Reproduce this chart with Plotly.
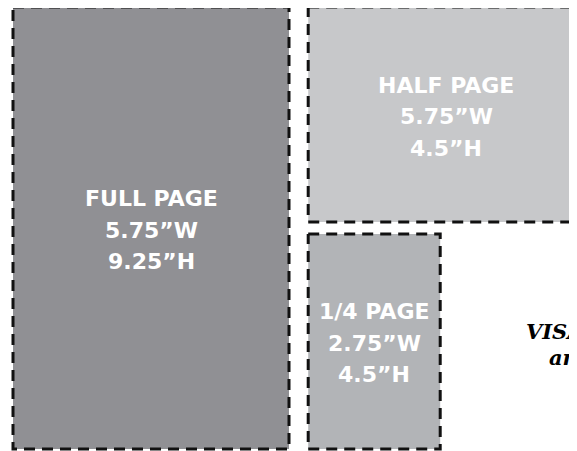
import plotly.graph_objects as go

# Ad sizes (inches)
ad_names = ["FULL PAGE", "HALF PAGE", "1/4 PAGE"]
ad_widths = [5.75, 5.75, 2.75]
ad_heights = [9.25, 4.5, 4.5]
width_labels = ["5.75\u201dW", "5.75\u201dW", "2.75\u201dW"]
height_labels = ["9.25\u201dH", "4.5\u201dH", "4.5\u201dH"]
ad_colors = ["#909094", "#c7c8ca", "#b2b4b7"]
note_lines = ["VISA, MasterCard", "and Discover"]

# layout rules (inches)
H_GAP = 0.4
V_GAP = 0.25
full_w, full_h = ad_widths[0], ad_heights[0]
origins = [
    (0.0, 0.0),
    (full_w + H_GAP, full_h - ad_heights[1]),
    (full_w + H_GAP, 0.0),
]

OFF = 8  # page body margin
fig = go.Figure()
for i, name in enumerate(ad_names):
    x0, y0 = origins[i]
    x1, y1 = x0 + ad_widths[i], y0 + ad_heights[i]
    fig.add_trace(go.Scatter(
        x=[x0, x1, x1, x0, x0], y=[y1, y1, y0, y0, y1],
        mode="lines", fill="toself", fillcolor=ad_colors[i],
        line=dict(color="#111111", width=3, dash="11px,7px"),
        hoverinfo="skip", showlegend=False,
    ))
    cx, cy = (x0 + x1) / 2, (y0 + y1) / 2
    for k, txt in enumerate([name, width_labels[i], height_labels[i]]):
        fig.add_annotation(
            x=cx, y=cy, xref="x", yref="y", text=txt, showarrow=False,
            xanchor="center", yanchor="middle",
            yshift=31.5 - 31.5 * k - 2,
            font=dict(family="DejaVu Sans", size=22, color="white", weight="bold"),
        )

for k, (line, xpx) in enumerate(zip(note_lines, [524, 547])):
    fig.add_annotation(
        x=(xpx - OFF) / 577, y=(451 - (331 - OFF + 26 * k)) / 451,
        xref="paper", yref="paper",
        text=line, showarrow=False, xanchor="left", yanchor="middle",
        font=dict(family="DejaVu Serif", size=21, color="black",
                  weight="bold", style="italic"),
    )

fig.update_xaxes(range=[-(13 - OFF) / 48, (577 - 13 + OFF) / 48], visible=False, fixedrange=True)
fig.update_yaxes(range=[-(451 - 449 + OFF) / 47.78, 9.25 + (7 - OFF) / 47.78],
                 visible=False, fixedrange=True)
fig.update_layout(
    width=577, height=451, margin=dict(l=0, r=0, t=0, b=0),
    plot_bgcolor="white", paper_bgcolor="white", showlegend=False,
)
fig.write_html("out.html")
